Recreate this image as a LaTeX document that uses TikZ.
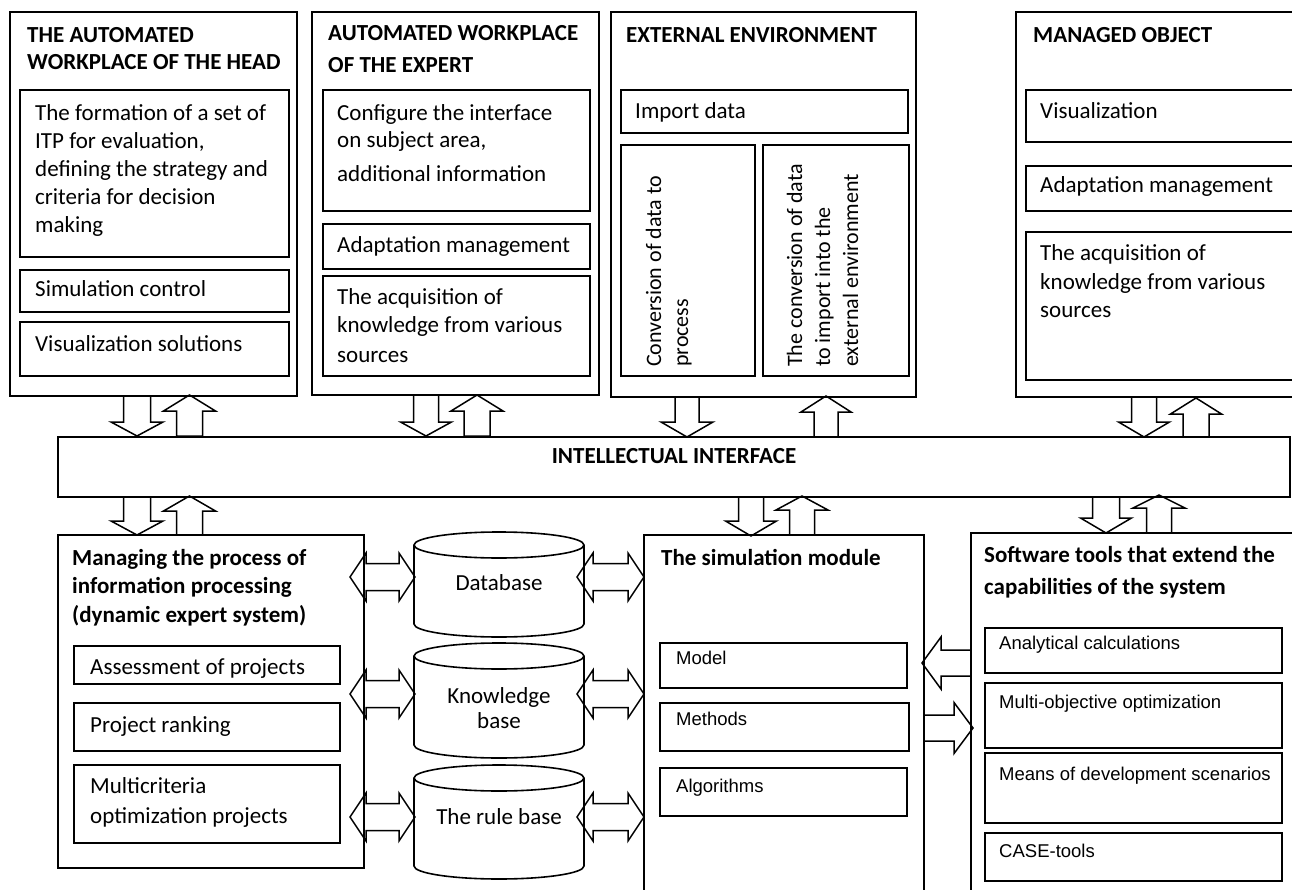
\documentclass[tikz,border=0pt]{standalone}
\usepackage{fontspec}
\setmainfont{Carlito}
\newfontfamily\arialf{Liberation Sans}
\usetikzlibrary{fit}
\tikzset{
  bx/.style={draw, line width=1.6pt, inner sep=0pt, outer sep=0pt},
  fat/.style={draw, fill=white, line width=1.5pt, line join=miter},
  tx/.style={inner sep=0pt, anchor=base west, font=\fontsize{23}{28}\selectfont},
  tr/.style={inner sep=0pt, anchor=base west, rotate=90, font=\fontsize{22}{27}\selectfont},
  tb/.style={inner sep=0pt, anchor=base west, font=\fontsize{23}{28}\selectfont\bfseries},
  ta/.style={inner sep=0pt, anchor=base west, font=\arialf\fontsize{18.5}{22}\selectfont},
}
% vertical block arrow: cx, y-start, y-headbase, y-tip, shaft half width, head half width
\newcommand\fatv[6]{\draw[fat] (#1-#5,#2) -- (#1-#5,#3) -- (#1-#6,#3) -- (#1,#4) -- (#1+#6,#3) -- (#1+#5,#3) -- (#1+#5,#2) -- cycle;}
% horizontal block arrow: cy, x-tail, x-headbase, x-tip, shaft half height, head half height
\newcommand\fath[6]{\draw[fat] (#2,#1-#5) -- (#3,#1-#5) -- (#3,#1-#6) -- (#4,#1) -- (#3,#1+#6) -- (#3,#1+#5) -- (#2,#1+#5) -- cycle;}
% double horizontal arrow: cy, x-left tip, x-right tip, head length, shaft half h, head half h
\newcommand\fatlr[6]{\draw[fat] (#2,#1) -- (#2+#4,#1-#6) -- (#2+#4,#1-#5) -- (#3-#4,#1-#5) -- (#3-#4,#1-#6) -- (#3,#1) -- (#3-#4,#1+#6) -- (#3-#4,#1+#5) -- (#2+#4,#1+#5) -- (#2+#4,#1+#6) -- cycle;}
% cylinder: cx, y top centre, y bottom centre
\newcommand\cyl[3]{\draw[line width=1.6pt] (#1-85,#2) -- (#1-85,#3) arc[start angle=180,end angle=360,x radius=85pt,y radius=13pt] -- (#1+85,#2);
  \draw[line width=1.6pt] (#1,#2) ellipse[x radius=85pt, y radius=13pt];}
\newcommand\bxn[5]{\node[bx, fit={(#2,#3) (#4,#5)}] (#1) {};}
\begin{document}
\begin{tikzpicture}[x=1pt,y=-1pt]
\useasboundingbox (0,0) rectangle (1292,890);
\clip (0,0) rectangle (1292,890);

% ---- arrows top row
\fatv{137}{396}{422}{436}{13.5}{26}
\fatv{189.5}{436}{411}{395}{13}{26}
\fatv{426}{395}{422}{436}{12.5}{25.5}
\fatv{477}{436}{411}{395}{13}{26}
\fatv{687}{397}{422}{437}{12}{26}
\fatv{826}{437}{412}{396}{12}{25}
\fatv{1144}{397}{422}{437}{12.5}{25.5}
\fatv{1196}{437}{414}{398}{13}{25.5}
% ---- arrows bottom row
\fatv{137}{497}{521}{535}{13.5}{26}
\fatv{189.5}{535}{511}{496}{13}{26}
\fatv{751}{497}{521}{536}{12.5}{25.5}
\fatv{802}{535}{510}{496}{12.5}{26}
\fatv{1106}{497}{518}{533}{13.5}{25.5}
\fatv{1159}{533}{508}{495}{12.5}{26}
% ---- double arrows
\fatlr{577}{350}{415}{16}{13.5}{24}
\fatlr{694}{350}{415}{16}{13.5}{24}
\fatlr{817}{350}{415}{16}{13.5}{24}
\fatlr{577}{577}{644}{16}{13.5}{24}
\fatlr{694}{577}{644}{16}{13.5}{24}
\fatlr{817}{577}{644}{16}{13.5}{24}
% ---- simulation <-> software
\fath{663}{971}{941}{922}{13}{26}
\fath{728}{924}{954}{973}{13}{25.5}

% ---- box 1
\bxn{b1}{10}{12}{297}{396}
\bxn{b1a}{20}{90}{289}{257}
\bxn{b1b}{20}{270}{289}{312}
\bxn{b1c}{20}{322}{289}{376}
\node[tb] (t1a) at (27,43) {THE AUTOMATED};
\node[tb] (t1b) at (27,70) {WORKPLACE OF THE HEAD};
\node[tx] (f1) at (35,121) {The formation of a set of};
\node[tx] (f2) at (35,149) {ITP for evaluation,};
\node[tx] (f3) at (35,177) {defining the strategy and};
\node[tx] (f4) at (35,205) {criteria for decision};
\node[tx] (f5) at (35,233) {making};
\node[tx] (s1) at (35,297) {Simulation control};
\node[tx] (v1) at (35,352) {Visualization solutions};

% ---- box 2
\bxn{b2}{312}{12}{599}{395}
\bxn{b2a}{323}{90}{590}{211}
\bxn{b2b}{323}{224}{590}{269}
\bxn{b2c}{323}{276}{590}{376}
\node[tb] (t2a) at (328,41) {AUTOMATED WORKPLACE};
\node[tb] (t2b) at (328,73) {OF THE EXPERT};
\node[tx] (c1) at (337,121) {Configure the interface};
\node[tx] (c2) at (337,148) {on subject area,};
\node[tx] (c3) at (337,182) {additional information};
\node[tx] (a2) at (337,253) {Adaptation management};
\node[tx] (k1) at (337,305) {The acquisition of};
\node[tx] (k2) at (337,333) {knowledge from various};
\node[tx] (k3) at (337,362) {sources};

% ---- box 3
\bxn{b3}{611}{12}{916}{397}
\bxn{b3a}{621}{90}{908}{133}
\bxn{b3b}{621}{145}{755}{376}
\bxn{b3c}{763}{145}{909}{376}
\node[tb] (t3) at (626,43) {EXTERNAL ENVIRONMENT};
\node[tx] (i3) at (635,119) {Import data};
\node[tr] (r1) at (661,367) {Conversion of data to};
\node[tr] (r2) at (688,367) {process};
\node[tr] (r3) at (802,367) {The conversion of data};
\node[tr] (r4) at (830,367) {to import into the};
\node[tr] (r5) at (858,367) {external environment};

% ---- box 4
\bxn{b4}{1016}{12}{1300}{397}
\bxn{b4a}{1026}{90}{1300}{142}
\bxn{b4b}{1026}{166}{1300}{211}
\bxn{b4c}{1026}{232}{1300}{380}
\node[tb] (t4) at (1033,43) {MANAGED OBJECT};
\node[tx] (v4) at (1040,119) {Visualization};
\node[tx] (a4) at (1040,193) {Adaptation management};
\node[tx] (q1) at (1040,261) {The acquisition of};
\node[tx] (q2) at (1040,290) {knowledge from various};
\node[tx] (q3) at (1040,318) {sources};

% ---- interface
\bxn{ii}{58}{437}{1290}{497}
\node[tb, anchor=base] (iit) at (674,463) {INTELLECTUAL INTERFACE};

% ---- managing
\bxn{m}{58}{535}{364}{868}
\bxn{ma}{74}{646}{340}{684}
\bxn{mb}{74}{703}{340}{751}
\bxn{mc}{74}{765}{340}{843}
\node[tb] (m1) at (72,565) {Managing the process of};
\node[tb] (m2) at (72,593) {information processing};
\node[tb] (m3) at (72,622) {(dynamic expert system)};
\node[tx] (ma1) at (90,674) {Assessment of projects};
\node[tx] (mb1) at (90,732) {Project ranking};
\node[tx] (mc1) at (90,793) {Multicriteria};
\node[tx] (mc2) at (90,823) {optimization projects};

% ---- cylinders
\cyl{499}{545}{624}
\cyl{499}{656}{745}
\cyl{499}{778}{866}
\node[tx, anchor=base] (db) at (499,590) {Database};
\node[tx, anchor=base] (kb1) at (499,703) {Knowledge};
\node[tx, anchor=base] (kb2) at (499,728) {base};
\node[tx, anchor=base] (rb) at (499,824) {The rule base};

% ---- simulation module
\bxn{s}{644}{535}{924}{900}
\bxn{sa}{660}{643}{907}{688}
\bxn{sb}{660}{703}{909}{751}
\bxn{sc}{660}{768}{907}{816}
\node[tb] (st) at (661,565) {The simulation module};
\node[ta] (sa1) at (676,664) {Model};
\node[ta] (sb1) at (676,725) {Methods};
\node[ta] (sc1) at (676,792) {Algorithms};

% ---- software tools
\bxn{w}{971}{533}{1300}{900}
\bxn{wa}{985}{628}{1282}{673}
\bxn{wb}{985}{683}{1282}{748}
\bxn{wc}{985}{753}{1282}{823}
\bxn{wd}{985}{833}{1282}{881}
\node[tb] (wt1) at (984,562) {Software tools that extend the};
\node[tb] (wt2) at (984,594) {capabilities of the system};
\node[ta] (wa1) at (999,649) {Analytical calculations};
\node[ta] (wb1) at (999,708) {Multi-objective optimization};
\node[ta] (wc1) at (999,780) {Means of development scenarios};
\node[ta] (wd1) at (999,857) {CASE-tools};
\end{tikzpicture}
\end{document}
